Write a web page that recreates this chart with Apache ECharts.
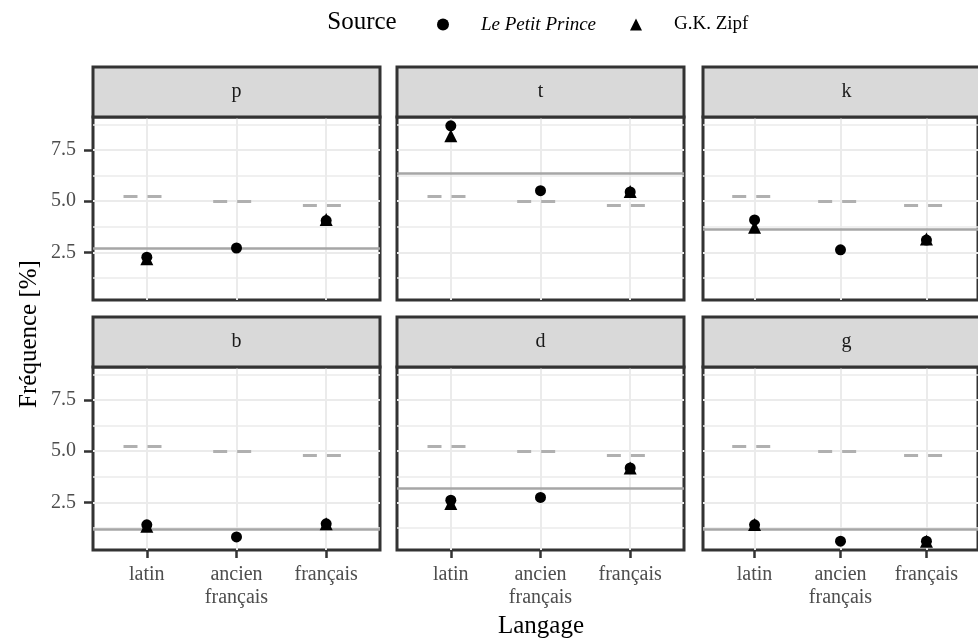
<!DOCTYPE html>
<html>
<head>
<meta charset="utf-8">
<script src="https://cdn.jsdelivr.net/npm/echarts@6/dist/echarts.min.js"></script>
<style>html,body{margin:0;padding:0;background:#fff;}#c{width:978px;height:641px;}</style>
</head>
<body>
<div id="c"></div>
<script>
// ---- data ----
const languages = ['latin', 'ancien\nfrançais', 'français'];
const panels = ['p', 't', 'k', 'b', 'd', 'g'];
const petitPrince = [
  [2.26, 2.71, 4.05], // p
  [8.68, 5.51, 5.45], // t
  [4.08, 2.62, 3.10], // k
  [1.40, 0.81, 1.45], // b
  [2.60, 2.74, 4.18], // d
  [1.40, 0.60, 0.60]  // g
];
const zipf = [
  [2.19, null, 4.10], // p
  [8.19, null, 5.47], // t
  [3.72, null, 3.15], // k
  [1.33, null, 1.45], // b
  [2.44, null, 4.18], // d
  [1.41, null, 0.60]  // g
];
const panelLevel = [2.68, 6.38, 3.64, 1.20, 3.20, 1.17];
const referenceLevel = [5.26, 5.00, 4.79];
const yMajorTicks = [2.5, 5.0, 7.5];
const yMinorTicks = [1.25, 3.75, 6.25, 8.75];

// ---- layout ----
const FONT = '"Liberation Serif", "DejaVu Serif", serif';
const colLeft = [93, 397, 703];
const rowTop = [117, 367];
const W = 287, H = 183, STRIP = 50;
const Y_MIN = 0.17, Y_MAX = 9.11;

const grids = [], xAxes = [], yAxes = [], series = [], graphics = [];

panels.forEach((name, i) => {
  const row = Math.floor(i / 3), col = i % 3;
  const left = colLeft[col], top = rowTop[row];
  grids.push({left: left, top: top, width: W, height: H, show: true,
    borderColor: '#333333', borderWidth: 3, backgroundColor: '#ffffff'});
  xAxes.push({
    gridIndex: i, type: 'value', min: -0.6, max: 2.6, position: 'bottom',
    axisLine: {show: false},
    axisTick: {show: row === 1, customValues: [0, 1, 2], length: 8,
      lineStyle: {color: '#333333', width: 2.5}},
    axisLabel: {show: row === 1, customValues: [0, 1, 2],
      formatter: v => languages[Math.round(v)], margin: 13,
      fontFamily: FONT, fontSize: 20, color: '#4d4d4d', lineHeight: 23},
    splitLine: {show: true, lineStyle: {color: '#ebebeb', width: 2}}
  });
  yAxes.push({
    gridIndex: i, type: 'value', min: Y_MIN, max: Y_MAX, position: 'left',
    axisLine: {show: false},
    axisTick: {show: false, customValues: yMinorTicks},
    axisLabel: {show: false, customValues: yMinorTicks},
    splitLine: {show: true, lineStyle: {color: '#ebebeb', width: 1.5}}
  });
  yAxes.push({
    gridIndex: i, type: 'value', min: Y_MIN, max: Y_MAX, position: 'left', offset: 0,
    axisLine: {show: false},
    axisTick: {show: col === 0, customValues: yMajorTicks, length: 9,
      lineStyle: {color: '#333333', width: 2.5}},
    axisLabel: {show: col === 0, customValues: yMajorTicks,
      formatter: v => v.toFixed(1), margin: 17,
      fontFamily: FONT, fontSize: 20, color: '#4d4d4d'},
    splitLine: {show: true, lineStyle: {color: '#ebebeb', width: 2}}
  });
  const yIdx = 2 * i + 1;
  // reference lines
  const mlData = [{yAxis: panelLevel[i], lineStyle: {type: 'solid', color: '#a6a6a6', width: 2.5}}];
  referenceLevel.forEach((v, j) => {
    mlData.push([{coord: [j - 0.26, v], lineStyle: {type: [14, 10], color: '#b0b0b0', width: 3}},
                 {coord: [j + 0.25, v]}]);
  });
  series.push({
    type: 'scatter', name: 'ref-' + name, xAxisIndex: i, yAxisIndex: yIdx,
    data: [], z: 1, silent: true,
    markLine: {silent: true, symbol: ['none', 'none'], label: {show: false},
      animation: false, emphasis: {disabled: true}, data: mlData}
  });
  series.push({
    type: 'scatter', name: 'Le Petit Prince', xAxisIndex: i, yAxisIndex: yIdx,
    symbol: 'circle', symbolSize: 11, z: 5,
    itemStyle: {color: '#000000', opacity: 1},
    data: petitPrince[i].map((v, j) => [j, v]).filter(d => d[1] !== null)
  });
  series.push({
    type: 'scatter', name: 'G.K. Zipf', xAxisIndex: i, yAxisIndex: yIdx,
    symbol: 'triangle', symbolSize: 13, z: 6,
    itemStyle: {color: '#000000', opacity: 1},
    data: zipf[i].map((v, j) => [j, v]).filter(d => d[1] !== null)
  });
  // strip
  graphics.push({type: 'rect', z: 10,
    shape: {x: left, y: top - STRIP, width: W, height: STRIP},
    style: {fill: '#d9d9d9', stroke: '#333333', lineWidth: 3}});
  graphics.push({type: 'text', z: 11, x: left + W / 2, y: top - STRIP / 2,
    style: {text: name, fontFamily: FONT, fontSize: 20, fill: '#1a1a1a',
      align: 'center', verticalAlign: 'middle'}});
});

graphics.push({type: 'text', x: 362, y: 22,
  style: {text: 'Source', fontFamily: FONT, fontSize: 25, fill: '#000',
    align: 'center', verticalAlign: 'middle'}});
graphics.push({type: 'text', x: 541, y: 626,
  style: {text: 'Langage', fontFamily: FONT, fontSize: 25, fill: '#000',
    align: 'center', verticalAlign: 'middle'}});
graphics.push({type: 'text', x: 29, y: 334, rotation: Math.PI / 2,
  style: {text: 'Fréquence [%]', fontFamily: FONT, fontSize: 25, fill: '#000',
    align: 'center', verticalAlign: 'middle'}});

const chart = echarts.init(document.getElementById('c'), null, {renderer: 'canvas'});
chart.setOption({
  animation: false,
  backgroundColor: '#ffffff',
  legend: {
    data: [{name: 'Le Petit Prince', icon: 'circle'}, {name: 'G.K. Zipf', icon: 'triangle'}],
    left: 432, top: 10, itemWidth: 12, itemHeight: 12, itemGap: 34,
    selectedMode: false,
    itemStyle: {color: '#000000', opacity: 1},
    formatter: n => n === 'Le Petit Prince' ? '{i|' + n + '}' : n,
    textStyle: {fontFamily: FONT, fontSize: 19, color: '#000', padding: [0, 0, 0, 27],
      rich: {i: {fontFamily: FONT, fontSize: 19, fontStyle: 'italic', color: '#000'}}}
  },
  grid: grids, xAxis: xAxes, yAxis: yAxes, series: series, graphic: graphics
});
</script>
</body>
</html>
